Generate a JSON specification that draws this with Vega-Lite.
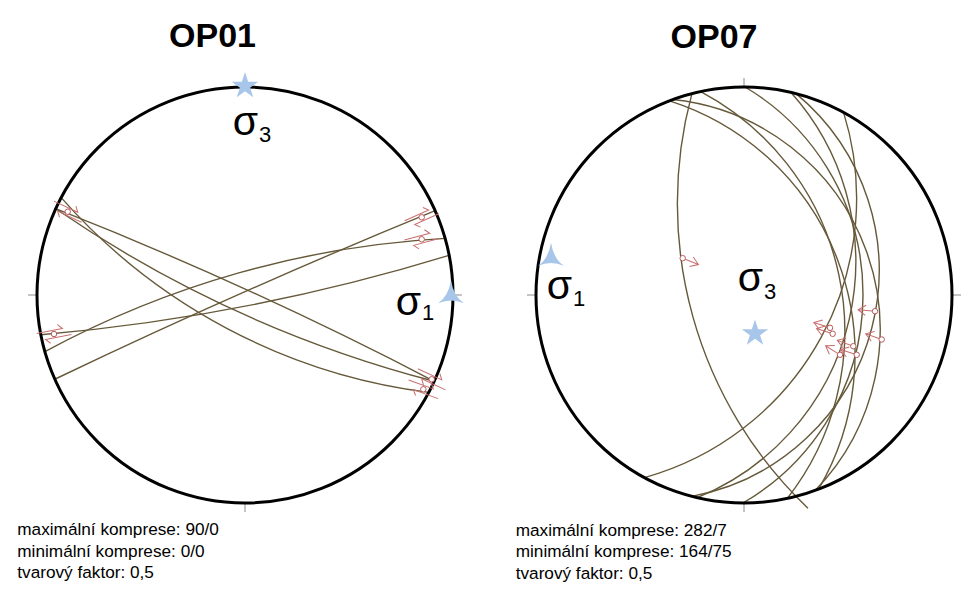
{
  "$schema": "https://vega.github.io/schema/vega-lite/v6.json",
  "padding": 0,
  "background": "white",
  "spacing": 18,
  "config": {"view": {"stroke": null}, "header": {"labelPadding": 0, "titlePadding": 0}},
  "data": {"values": [
    {"panel": "OP01", "kind": "prim", "x": 0, "y": 0, "r": 208, "t1": 0, "t2": 360},
    {"panel": "OP07", "kind": "prim", "x": 0, "y": 0, "r": 208, "t1": 0, "t2": 360},
    {"panel": "OP01", "kind": "gc", "x": -374.2, "y": 1924.9, "r": 1972.0, "t1": 162.95, "t2": 175.05},
    {"panel": "OP01", "kind": "gc", "x": 253.0, "y": -893.9, "r": 952.0, "t1": 331.58, "t2": 356.82},
    {"panel": "OP01", "kind": "gc", "x": 2920.7, "y": -6591.0, "r": 7212.2, "t1": 334.447, "t2": 337.753},
    {"panel": "OP01", "kind": "gc", "x": -1629.9, "y": -3576.4, "r": 3935.8, "t1": 21.47, "t2": 27.53},
    {"panel": "OP01", "kind": "gc", "x": 494.6, "y": 1085.4, "r": 1210.8, "t1": 194.61, "t2": 214.39},
    {"panel": "OP01", "kind": "gc", "x": 257.5, "y": 486.3, "r": 588.26, "t1": 187.19, "t2": 228.61},
    {"panel": "OP07", "kind": "gc", "x": 354.16, "y": 91.59, "r": 420.81, "t1": 223.6, "t2": 285.12},
    {"panel": "OP07", "kind": "gc", "x": -155.27, "y": -59.6, "r": 266.32, "t1": 17.65, "t2": 120.35},
    {"panel": "OP07", "kind": "gc", "x": -95.28, "y": -34.68, "r": 231.4, "t1": 5.98, "t2": 134.02},
    {"panel": "OP07", "kind": "gc", "x": -170.7, "y": -36.28, "r": 271.51, "t1": 27.99, "t2": 128.01},
    {"panel": "OP07", "kind": "gc", "x": -122.28, "y": 0.64, "r": 241.28, "t1": 30.75, "t2": 149.85},
    {"panel": "OP07", "kind": "gc", "x": -142.55, "y": 32.91, "r": 254.3, "t1": 48.12, "t2": 157.88},
    {"panel": "OP07", "kind": "gc", "x": -94.76, "y": 24.51, "r": 229.88, "t1": 39.7, "t2": 169.3},
    {"panel": "OP07", "kind": "gc", "x": -177.19, "y": 96.61, "r": 289.82, "t1": 72.74, "t2": 164.46},
    {"panel": "OP01", "kind": "tick", "x": -217, "y": 0, "x2": -209, "y2": 0},
    {"panel": "OP01", "kind": "tick", "x": 209, "y": 0, "x2": 217, "y2": 0},
    {"panel": "OP01", "kind": "tick", "x": 0, "y": -209, "x2": 0, "y2": -217},
    {"panel": "OP01", "kind": "tick", "x": 0, "y": 209, "x2": 0, "y2": 217},
    {"panel": "OP07", "kind": "tick", "x": -217, "y": 0, "x2": -209, "y2": 0},
    {"panel": "OP07", "kind": "tick", "x": 209, "y": 0, "x2": 217, "y2": 0},
    {"panel": "OP07", "kind": "tick", "x": 0, "y": -209, "x2": 0, "y2": -217},
    {"panel": "OP07", "kind": "tick", "x": 0, "y": 209, "x2": 0, "y2": 217},
    {"panel": "OP01", "kind": "dbl", "x": -177.3, "y": 83.3, "dir": 25},
    {"panel": "OP01", "kind": "dbl", "x": -191, "y": -39, "dir": -11},
    {"panel": "OP01", "kind": "dbl", "x": 176.7, "y": 77.7, "dir": -24},
    {"panel": "OP01", "kind": "dbl", "x": 176.7, "y": 55.7, "dir": -15},
    {"panel": "OP01", "kind": "dbl", "x": 186.7, "y": -84.3, "dir": 25},
    {"panel": "OP01", "kind": "dbl", "x": 178.3, "y": -94.3, "dir": 20},
    {"panel": "OP07", "kind": "arr", "x": -61.3, "y": 36.8, "dir": 22},
    {"panel": "OP07", "kind": "arr", "x": 131, "y": -16.2, "dir": 185},
    {"panel": "OP07", "kind": "arr", "x": 86, "y": -32.8, "dir": 198},
    {"panel": "OP07", "kind": "arr", "x": 88.7, "y": -38.8, "dir": 198},
    {"panel": "OP07", "kind": "arr", "x": 137.7, "y": -44.5, "dir": 200},
    {"panel": "OP07", "kind": "arr", "x": 109.3, "y": -51.2, "dir": 200},
    {"panel": "OP07", "kind": "arr", "x": 96, "y": -59.8, "dir": 212},
    {"panel": "OP07", "kind": "arr", "x": 112.7, "y": -59.8, "dir": 198},
    {"panel": "OP01", "kind": "star", "x": 0, "y": 209},
    {"panel": "OP07", "kind": "star", "x": 11, "y": -38.5},
    {"panel": "OP01", "kind": "tri", "x": 206, "y": 2},
    {"panel": "OP07", "kind": "tri", "x": -193, "y": 39.5},
    {"panel": "OP01", "kind": "title", "x": -32.5, "y": 248, "label": "OP01"},
    {"panel": "OP07", "kind": "title", "x": -30, "y": 247.5, "label": "OP07"},
    {"panel": "OP01", "kind": "info", "x": -227.7, "y": -240, "label": "maximální komprese: 90/0"},
    {"panel": "OP01", "kind": "info", "x": -227.7, "y": -261.7, "label": "minimální komprese: 0/0"},
    {"panel": "OP01", "kind": "info", "x": -227.7, "y": -283, "label": "tvarový faktor: 0,5"},
    {"panel": "OP07", "kind": "info", "x": -228.3, "y": -240.5, "label": "maximální komprese: 282/7"},
    {"panel": "OP07", "kind": "info", "x": -228.3, "y": -262.2, "label": "minimální komprese: 164/75"},
    {"panel": "OP07", "kind": "info", "x": -228.3, "y": -283.5, "label": "tvarový faktor: 0,5"},
    {"panel": "OP01", "kind": "sig", "x": 0.5, "y": 160, "label": "σ"},
    {"panel": "OP01", "kind": "sig", "x": 163.3, "y": -20, "label": "σ"},
    {"panel": "OP07", "kind": "sig", "x": -184.5, "y": -3.5, "label": "σ"},
    {"panel": "OP07", "kind": "sig", "x": 6.5, "y": 4.5, "label": "σ"},
    {"panel": "OP01", "kind": "sub", "x": 14, "y": 153, "label": "3"},
    {"panel": "OP01", "kind": "sub", "x": 177, "y": -25, "label": "1"},
    {"panel": "OP07", "kind": "sub", "x": -171, "y": -10.5, "label": "1"},
    {"panel": "OP07", "kind": "sub", "x": 20, "y": -3.5, "label": "3"}
  ]},
  "facet": {"column": {"field": "panel", "type": "nominal", "title": null, "header": {"labels": false, "title": null}}},
  "spec": {
    "width": 481,
    "height": 602,
    "encoding": {
      "x": {"field": "x", "type": "quantitative", "scale": {"domain": [-245, 236], "nice": false, "zero": false}, "axis": null},
      "y": {"field": "y", "type": "quantitative", "scale": {"domain": [-307, 295], "nice": false, "zero": false}, "axis": null}
    },
    "layer": [
      {
        "transform": [{"filter": "datum.kind === 'tick'"}],
        "mark": {"type": "rule", "color": "#8c8c8c", "strokeWidth": 1},
        "encoding": {"x2": {"field": "x2"}, "y2": {"field": "y2"}}
      },
      {
        "transform": [{"filter": "datum.kind === 'gc'"}],
        "mark": {"type": "arc", "filled": false, "color": "#66593a", "strokeWidth": 1.4},
        "encoding": {
          "theta": {"field": "t1", "type": "quantitative", "stack": null, "scale": {"domain": [0, 360], "range": [0, 6.283185307179586], "nice": false, "zero": false}},
          "theta2": {"field": "t2"},
          "radius": {"field": "r", "type": "quantitative", "scale": {"type": "linear", "domain": [0, 10000], "range": [0, 10000], "nice": false, "zero": true}},
          "radius2": {"field": "r"}
        }
      },
      {
        "transform": [{"filter": "datum.kind === 'prim'"}],
        "mark": {"type": "arc", "filled": false, "color": "#000000", "strokeWidth": 3},
        "encoding": {
          "theta": {"field": "t1", "type": "quantitative", "stack": null},
          "theta2": {"field": "t2"},
          "radius": {"field": "r", "type": "quantitative"},
          "radius2": {"field": "r"}
        }
      },
      {
        "transform": [{"filter": "datum.kind === 'arr'"}],
        "mark": {"type": "point", "shape": "M0,0L1,0M0.55,-0.3L1,0L0.55,0.3", "filled": false, "color": "#c96e6e", "strokeWidth": 1, "size": 1156, "opacity": 1},
        "encoding": {"angle": {"field": "dir", "type": "quantitative", "scale": null}}
      },
      {
        "transform": [{"filter": "datum.kind === 'dbl'"}],
        "mark": {"type": "point", "shape": "M-1,-0.22L0.55,-0.22L0.3,-0.5M1,0.22L-0.55,0.22L-0.3,0.5", "filled": false, "color": "#c96e6e", "strokeWidth": 1, "size": 1156, "opacity": 1},
        "encoding": {"angle": {"field": "dir", "type": "quantitative", "scale": null}}
      },
      {
        "transform": [{"filter": "datum.kind === 'arr' || datum.kind === 'dbl'"}],
        "mark": {"type": "point", "shape": "circle", "filled": true, "fill": "#ffffff", "stroke": "#b65a5a", "strokeWidth": 1, "size": 30, "opacity": 1}
      },
      {
        "transform": [{"filter": "datum.kind === 'star'"}],
        "mark": {"type": "point", "shape": "M0,-1L0.2245,-0.309L0.951,-0.309L0.3633,0.118L0.588,0.809L0,0.382L-0.588,0.809L-0.3633,0.118L-0.951,-0.309L-0.2245,-0.309Z", "filled": true, "color": "#a7c6ea", "size": 784, "opacity": 1, "strokeWidth": 0}
      },
      {
        "transform": [{"filter": "datum.kind === 'tri'"}],
        "mark": {"type": "point", "shape": "M0,-1Q0.2,0.25 1,0.8Q0,0.35 -1,0.8Q-0.2,0.25 0,-1Z", "filled": true, "color": "#a7c6ea", "size": 660, "opacity": 1, "strokeWidth": 0}
      },
      {
        "transform": [{"filter": "datum.kind === 'title'"}],
        "mark": {"type": "text", "font": "Liberation Sans, Arial, sans-serif", "fontWeight": "bold", "fontSize": 34, "align": "center", "baseline": "alphabetic", "color": "#000000"},
        "encoding": {"text": {"field": "label"}}
      },
      {
        "transform": [{"filter": "datum.kind === 'info'"}],
        "mark": {"type": "text", "font": "Liberation Sans, Arial, sans-serif", "fontSize": 17.2, "align": "left", "baseline": "alphabetic", "color": "#000000"},
        "encoding": {"text": {"field": "label"}}
      },
      {
        "transform": [{"filter": "datum.kind === 'sig'"}],
        "mark": {"type": "text", "font": "Liberation Sans, Arial, sans-serif", "fontSize": 41, "align": "center", "baseline": "alphabetic", "color": "#000000"},
        "encoding": {"text": {"field": "label"}}
      },
      {
        "transform": [{"filter": "datum.kind === 'sub'"}],
        "mark": {"type": "text", "font": "Liberation Sans, Arial, sans-serif", "fontSize": 22, "align": "left", "baseline": "alphabetic", "color": "#000000"},
        "encoding": {"text": {"field": "label"}}
      }
    ]
  }
}
